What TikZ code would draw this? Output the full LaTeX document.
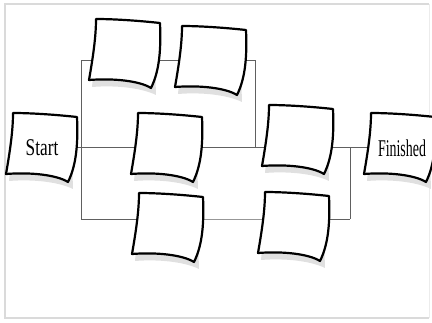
\documentclass[tikz,border=0pt]{standalone}
\usepackage{fontspec}
\usepackage{graphicx}
\setmainfont{Liberation Serif}
\definecolor{framegray}{HTML}{DADADA}
\definecolor{linegray}{HTML}{606060}
\definecolor{shadowgray}{HTML}{E0E0E0}
\tikzset{
  box/.style={draw=none, minimum width=64pt, minimum height=60pt, inner sep=0pt},
  conn/.style={draw=linegray, line width=0.9pt},
  paper/.pic={
    \fill[shadowgray] (-26,-26) .. controls (-6,-28) and (18,-27) .. (30,-20) -- (32,43)
      .. controls (18,36) and (-8,33) .. (-32,35) -- cycle;
    \path[fill=white, draw=black, line width=2.2pt, line join=round]
      (-28,-33) .. controls (-8,-33) and (18,-31) .. (36,-29)
      .. controls (37,-5) and (36,18) .. (27,36)
      .. controls (16,29) and (-10,26) .. (-35,28)
      .. controls (-31,5) and (-28,-15) .. cycle;
  },
  lbl/.style={font=\fontsize{24}{24}\selectfont, inner sep=0pt}
}
\begin{document}
\begin{tikzpicture}[x=1pt, y=-1pt]
\useasboundingbox (0,0) rectangle (432,322);
\draw[framegray, line width=2.5pt] (429,4) -- (5,4) -- (5,318) -- (429,318);
\draw[framegray!50, line width=0.8pt] (429,4) -- (429,318);
% box placeholders
\node[box] (S) at (41,146) {};
\node[box] (A) at (124,52) {};
\node[box] (B) at (210,59) {};
\node[box] (C) at (166,146) {};
\node[box] (D) at (297,138) {};
\node[box] (F) at (399,146) {};
\node[box] (E) at (167,226) {};
\node[box] (G) at (293,225) {};
% junction coordinates
\coordinate (bt) at (81,60);
\coordinate (bm) at (81,147);
\coordinate (bb) at (81,219);
\coordinate (mt) at (255,60);
\coordinate (mm) at (255,147);
\coordinate (rm) at (350,147);
\coordinate (rb) at (350,219);
% connectors
\draw[conn] (bt) -- (bb);
\draw[conn] (bt) -- (bt -| A.center);
\draw[conn] (S.center |- bm) -- (bm -| C.center);
\draw[conn] (bb) -- (bb -| E.center);
\draw[conn] (bt -| A.center) -- (bt -| B.center);
\draw[conn] (bt -| B.center) -- (mt) -- (mm);
\draw[conn] (bm -| C.center) -- (bm -| D.center);
\draw[conn] (bm -| D.center) -- (bm -| F.center);
\draw[conn] (rm) -- (rb);
\draw[conn] (bb -| E.center) -- (bb -| G.center) -- (rb);
% papers
\foreach \n in {S,A,B,C,D,F,E,G} { \pic at (\n.center) {paper}; }
% labels
\node[lbl] (ts) at (42,148) {\scalebox{0.72}[1]{Start}};
\node[lbl] (tf) at (402,148) {\scalebox{0.58}[1]{Finished}};
\end{tikzpicture}
\end{document}
